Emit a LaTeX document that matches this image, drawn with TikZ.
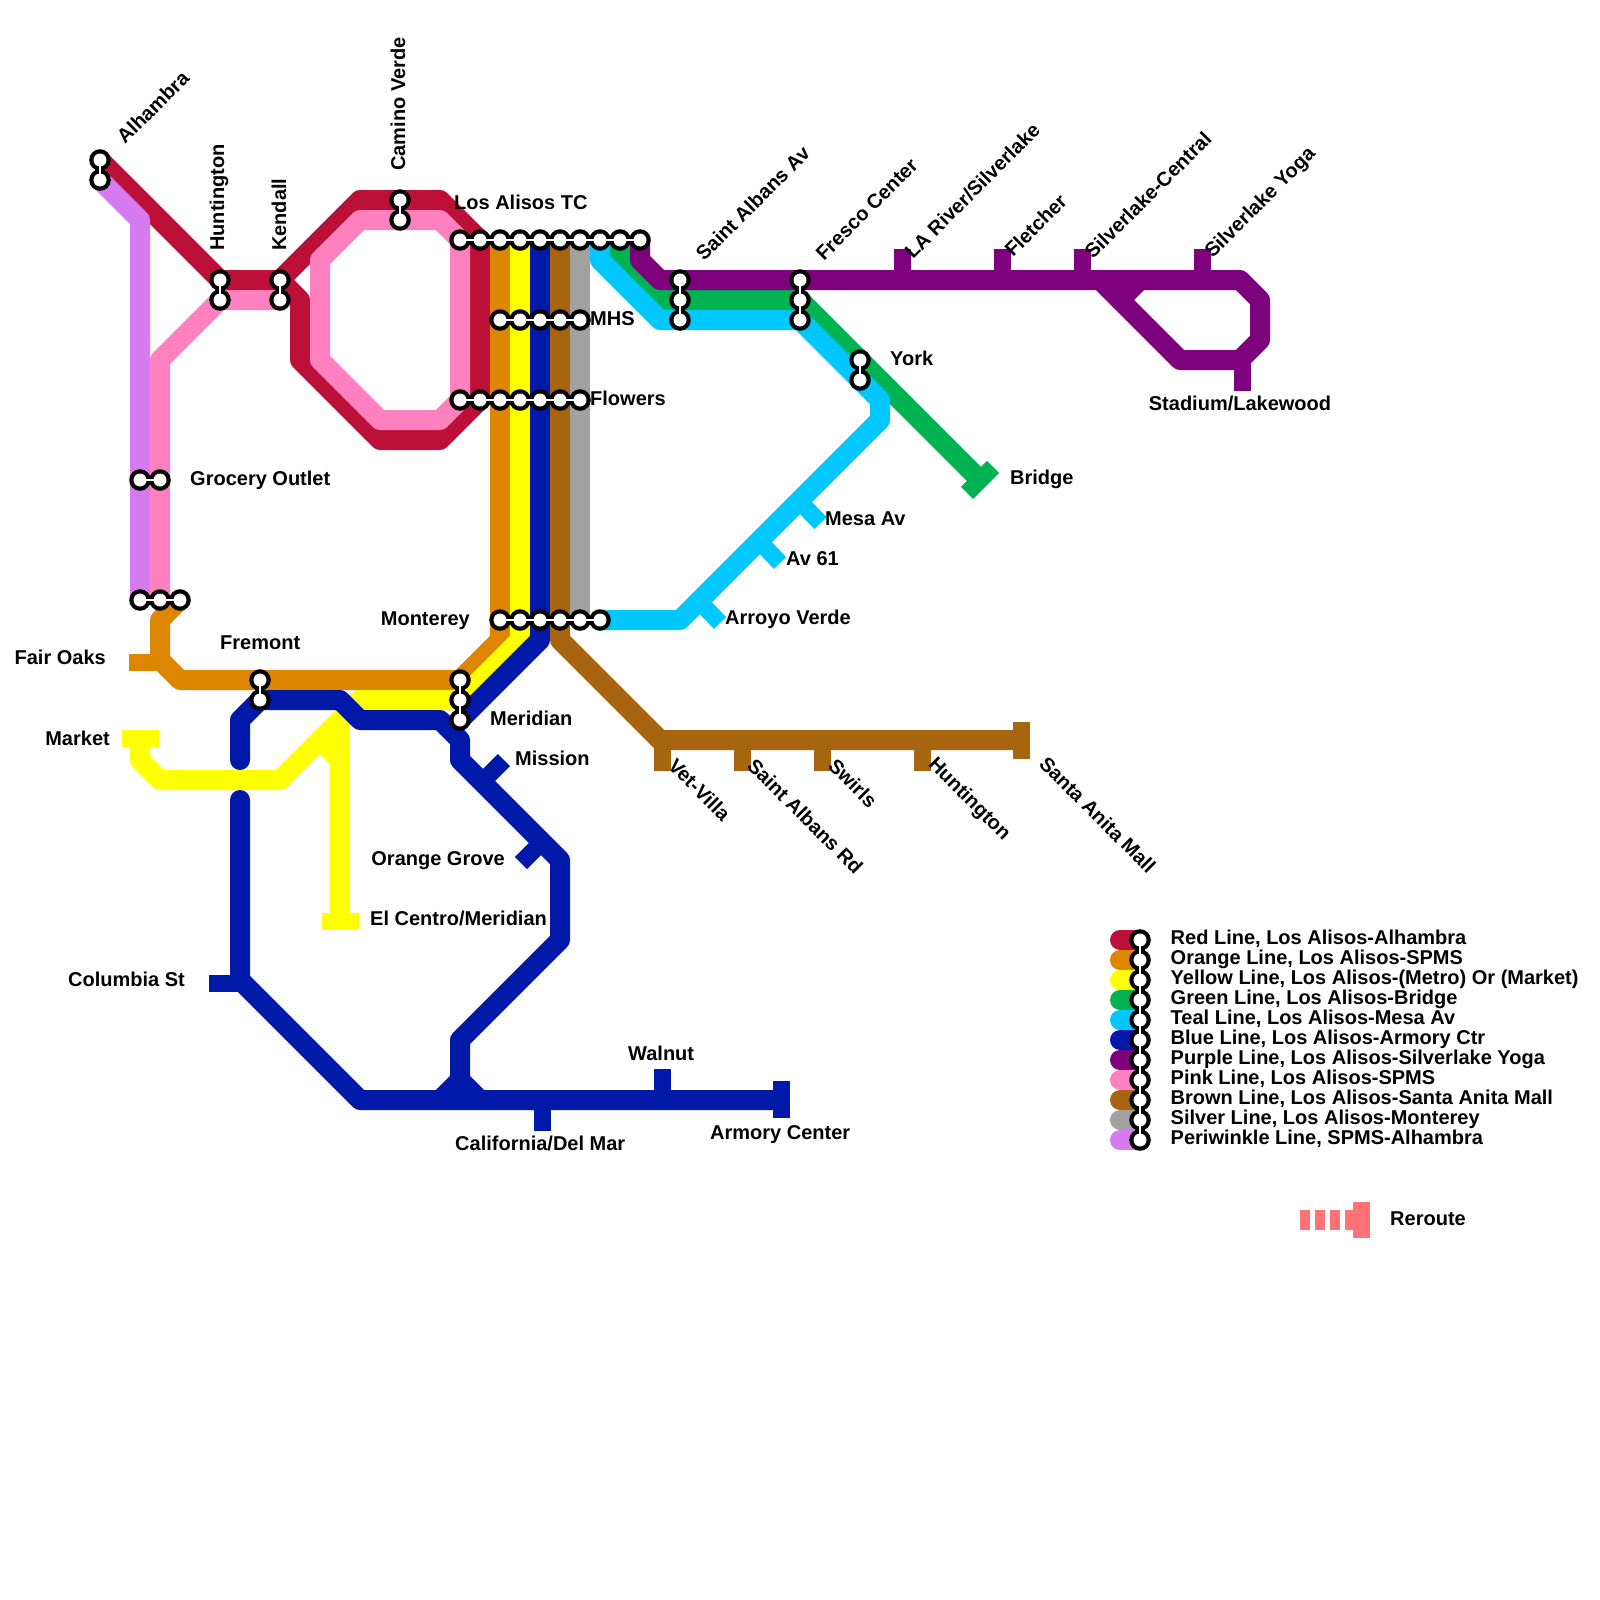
\documentclass[tikz,border=0pt]{standalone}
\usepackage{fontspec}
\setmainfont{Liberation Sans}[BoldFont={Liberation Sans Bold}]
\definecolor{cRed}{HTML}{BD1038}
\definecolor{cOrange}{HTML}{DF8600}
\definecolor{cYellow}{HTML}{FFFF00}
\definecolor{cGreen}{HTML}{00B251}
\definecolor{cTeal}{HTML}{00C7FE}
\definecolor{cBlue}{HTML}{0019A8}
\definecolor{cPurple}{HTML}{7D007D}
\definecolor{cPink}{HTML}{FF80BF}
\definecolor{cBrown}{HTML}{A76510}
\definecolor{cSilver}{HTML}{A1A1A1}
\definecolor{cPeri}{HTML}{D67AF0}
\definecolor{cReroute}{HTML}{FF7377}
\tikzset{
  route/.style={line width=20pt,line cap=round,line join=round,draw=#1},
  tick/.style={line width=17pt,line cap=butt,draw=#1},
  lab/.style={font=\fontsize{20}{20}\selectfont\bfseries,inner sep=0pt,text=black},
  legendtext/.style={lab,anchor=west},
  stacklineblack/.style={line width=9pt,draw=black,line cap=butt},
  stacklinewhite/.style={line width=2.5pt,draw=white,line cap=butt},
}
% horizontal chain: y, first x, last x
\newcommand{\chainH}[3]{%
  \pgfmathtruncatemacro{\nxt}{#2+20}%
  \draw[stacklineblack] (#2,#1) -- (#3,#1);
  \foreach \k in {#2,\nxt,...,#3}{\fill[black] (\k,#1) circle[radius=10.8pt];}
  \draw[stacklinewhite] (#2,#1) -- (#3,#1);
  \foreach \k in {#2,\nxt,...,#3}{\fill[white] (\k,#1) circle[radius=6.5pt];}
}
% vertical chain: x, first y, last y
\newcommand{\chainV}[3]{%
  \pgfmathtruncatemacro{\nxt}{#2+20}%
  \draw[stacklineblack] (#1,#2) -- (#1,#3);
  \foreach \k in {#2,\nxt,...,#3}{\fill[black] (#1,\k) circle[radius=10.8pt];}
  \draw[stacklinewhite] (#1,#2) -- (#1,#3);
  \foreach \k in {#2,\nxt,...,#3}{\fill[white] (#1,\k) circle[radius=6.5pt];}
}
\begin{document}
\begin{tikzpicture}[x=1pt,y=-1pt]
\useasboundingbox (0,0) rectangle (1600,1600);
\fill[white] (0,0) rectangle (1600,1600);
% Red
\draw[route=cRed] (100,160) -- (220,280) -- (280,280) -- (360,200) -- (440,200) -- (480,240) -- (480,400) -- (440,440) -- (380,440) -- (300,360) -- (300,300) -- (280,280);
% Orange
\draw[tick=cOrange] (129,662) -- (160,662);
\draw[route=cOrange] (500,240) -- (500,640) -- (460,680) -- (180,680) -- (160,660) -- (160,620) -- (180,600);
% Yellow
\draw[tick=cYellow] (122,738.5) -- (158.5,738.5);
\draw[tick=cYellow] (322,921.5) -- (358.5,921.5);
\draw[route=cYellow] (520,240) -- (520,640) -- (460,700) -- (360,700) -- (320,740) -- (340,760) -- (340,915);
\draw[route=cYellow] (320,740) -- (280,780) -- (160,780) -- (140,760) -- (140,740);
\draw[route=cYellow,line cap=butt] (340,720) -- (340,760);
% Green
\draw[tick=cGreen] (993,467) -- (967,493);
\draw[route=cGreen] (620,240) -- (620,260) -- (660,300) -- (800,300) -- (975,475);
% Teal
\draw[tick=cTeal] (799,501) -- (820.5,523);
\draw[tick=cTeal] (759,541) -- (780,563);
\draw[tick=cTeal] (699,601) -- (720,623);
\draw[route=cTeal] (600,240) -- (600,260) -- (660,320) -- (800,320) -- (880,400) -- (880,420) -- (680,620) -- (600,620);
% Blue
\draw[tick=cBlue] (209,983) -- (240,983);
\draw[tick=cBlue] (482,782) -- (504,760);
\draw[tick=cBlue] (542,842) -- (521,863);
\draw[tick=cBlue] (542.5,1100) -- (542.5,1130.7);
\draw[tick=cBlue] (662.5,1100) -- (662.5,1069);
\draw[tick=cBlue] (781.5,1081.3) -- (781.5,1118.3);
\draw[route=cBlue] (540,240) -- (540,640) -- (460,720);
\draw[route=cBlue] (240,760) -- (240,720) -- (260,700) -- (340,700) -- (360,720) -- (440,720) -- (460,740) -- (460,760) -- (560,860) -- (560,940) -- (460,1040) -- (460,1080) -- (480,1100);
\draw[route=cBlue] (460,1080) -- (440,1100);
\draw[route=cBlue] (240,800) -- (240,980) -- (360,1100) -- (778,1100);
% Purple
\foreach \sx in {902.5,1002.5,1082.5,1202.5}{\draw[tick=cPurple] (\sx,249) -- (\sx,280);}
\draw[tick=cPurple] (1242.5,360) -- (1242.5,391);
\draw[route=cPurple] (640,240) -- (640,260) -- (660,280) -- (1240,280) -- (1260,300) -- (1260,340) -- (1240,360) -- (1180,360) -- (1100,280);
\draw[route=cPurple] (1120,300) -- (1140,280);
% Pink
\draw[route=cPink] (160,600) -- (160,360) -- (220,300) -- (280,300);
\draw[route=cPink] (320,260) -- (360,220) -- (440,220) -- (460,240) -- (460,400) -- (440,420) -- (380,420) -- (320,360) -- cycle;
% Brown
\foreach \sx in {662.5,742.5,822.5,922.5}{\draw[tick=cBrown] (\sx,740) -- (\sx,770.7);}
\draw[tick=cBrown] (1021.5,721.7) -- (1021.5,758.7);
\draw[route=cBrown] (560,240) -- (560,640) -- (660,740) -- (1018,740);
% Silver
\draw[route=cSilver] (580,240) -- (580,620);
% Periwinkle
\draw[route=cPeri] (100,180) -- (140,220) -- (140,600);
% Legend swatches
\foreach \col/\yy in {cRed/940,cOrange/960,cYellow/980,cGreen/1000,cTeal/1020,cBlue/1040,cPurple/1060,cPink/1080,cBrown/1100,cSilver/1120,cPeri/1140}{
  \draw[route=\col] (1120,\yy) -- (1140,\yy);
}
% Reroute
\foreach \sx in {1300,1315,1330,1345}{\fill[cReroute] (\sx,1210) rectangle ++(10,20);}
\fill[cReroute] (1353,1202) rectangle (1370,1238);
% Stations
\chainV{100}{160}{180}
\chainV{220}{280}{300}
\chainV{280}{280}{300}
\chainV{400}{200}{220}
\chainH{240}{460}{640}
\chainH{320}{500}{580}
\chainH{400}{460}{580}
\chainH{480}{140}{160}
\chainH{600}{140}{180}
\chainH{620}{500}{600}
\chainV{260}{680}{700}
\chainV{460}{680}{720}
\chainV{680}{280}{320}
\chainV{800}{280}{320}
\chainV{860}{360}{380}
\chainV{1140}{940}{1140}
% Labels
\node[lab,anchor=west,rotate=45] (lAlh) at (120,140) {Alhambra};
\node[lab,anchor=west,rotate=90] (lHun) at (219,251) {Huntington};
\node[lab,anchor=west,rotate=90] (lKen) at (279,251) {Kendall};
\node[lab,anchor=west,rotate=90] (lCam) at (398,171) {Camino Verde};
\node[lab,anchor=west] (lLos) at (454,202) {Los Alisos TC};
\node[lab,anchor=west] (lMHS) at (590,319) {MHS};
\node[lab,anchor=west] (lFlo) at (590,398) {Flowers};
\node[lab,anchor=west] (lGro) at (190,480) {Grocery Outlet};
\node[lab,anchor=east] (lMon) at (470,621) {Monterey};
\node[lab,anchor=west] (lFre) at (220,643) {Fremont};
\node[lab,anchor=east] (lFai) at (106,657) {Fair Oaks};
\node[lab,anchor=east] (lMar) at (110,738) {Market};
\node[lab,anchor=west] (lMer) at (490,718) {Meridian};
\node[lab,anchor=west] (lMis) at (515,758) {Mission};
\node[lab,anchor=east] (lOra) at (505,861) {Orange Grove};
\node[lab,anchor=west] (lElC) at (370,918) {El Centro/Meridian};
\node[lab,anchor=east] (lCol) at (185,979) {Columbia St};
\node[lab,anchor=west] (lWal) at (628,1053) {Walnut};
\node[lab,anchor=west] (lCal) at (455,1143) {California/Del Mar};
\node[lab,anchor=west] (lArm) at (710,1135) {Armory Center};
\node[lab,anchor=west,rotate=45] (lSAA) at (699,257) {Saint Albans Av};
\node[lab,anchor=west,rotate=45] (lFrC) at (819,257) {Fresco Center};
\node[lab,anchor=west,rotate=45] (lLAR) at (908,255) {LA River/Silverlake};
\node[lab,anchor=west,rotate=45] (lFle) at (1008,253) {Fletcher};
\node[lab,anchor=west,rotate=45] (lSiC) at (1088,255) {Silverlake-Central};
\node[lab,anchor=west,rotate=45] (lSiY) at (1209,255) {Silverlake Yoga};
\node[lab,anchor=west] (lYor) at (890,358) {York};
\node[lab,anchor=center] (lSta) at (1240,403) {Stadium/Lakewood};
\node[lab,anchor=west] (lBri) at (1010,479) {Bridge};
\node[lab,anchor=west] (lMes) at (825,519) {Mesa Av};
\node[lab,anchor=west] (lAv) at (786,559) {Av 61};
\node[lab,anchor=west] (lArr) at (725,619) {Arroyo Verde};
\node[lab,anchor=west,rotate=-45] (lVet) at (672,762) {Vet-Villa};
\node[lab,anchor=west,rotate=-45] (lSAR) at (751,762) {Saint Albans Rd};
\node[lab,anchor=west,rotate=-45] (lSwi) at (832,762) {Swirls};
\node[lab,anchor=west,rotate=-45] (lHu2) at (931,762) {Huntington};
\node[lab,anchor=west,rotate=-45] (lSan) at (1043,760) {Santa Anita Mall};
\node[legendtext] (t1) at (1170.5,939) {Red Line, Los Alisos-Alhambra};
\node[legendtext] (t2) at (1170.5,959) {Orange Line, Los Alisos-SPMS};
\node[legendtext] (t3) at (1170.5,979) {Yellow Line, Los Alisos-(Metro) Or (Market)};
\node[legendtext] (t4) at (1170.5,999) {Green Line, Los Alisos-Bridge};
\node[legendtext] (t5) at (1170.5,1019) {Teal Line, Los Alisos-Mesa Av};
\node[legendtext] (t6) at (1170.5,1039) {Blue Line, Los Alisos-Armory Ctr};
\node[legendtext] (t7) at (1170.5,1059) {Purple Line, Los Alisos-Silverlake Yoga};
\node[legendtext] (t8) at (1170.5,1079) {Pink Line, Los Alisos-SPMS};
\node[legendtext] (t9) at (1170.5,1099) {Brown Line, Los Alisos-Santa Anita Mall};
\node[legendtext] (t10) at (1170.5,1119) {Silver Line, Los Alisos-Monterey};
\node[legendtext] (t11) at (1170.5,1139) {Periwinkle Line, SPMS-Alhambra};
\node[legendtext] (tR) at (1390,1219) {Reroute};
\end{tikzpicture}
\end{document}
